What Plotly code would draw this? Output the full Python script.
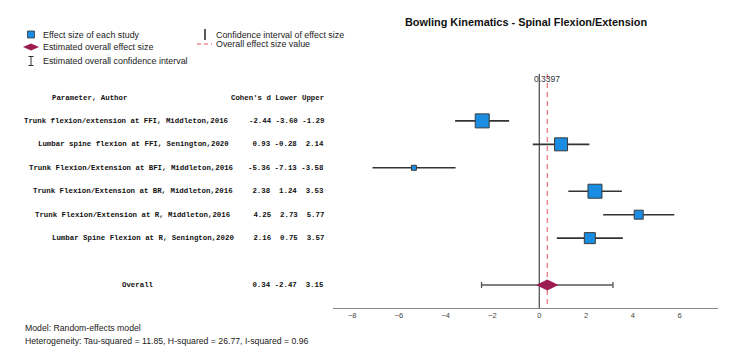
import plotly.graph_objects as go

# ---- data ----
studies = [
    "Trunk flexion/extension at FFI, Middleton,2016",
    "Lumbar spine flexion at FFI, Senington,2020",
    "Trunk Flexion/Extension at BFI, Middleton,2016",
    "Trunk Flexion/Extension at BR, Middleton,2016",
    "Trunk Flexion/Extension at R, Middleton,2016",
    "Lumbar Spine Flexion at R, Senington,2020",
]
cohens_d = [-2.44, 0.93, -5.36, 2.38, 4.25, 2.16]
lower = [-3.60, -0.28, -7.13, 1.24, 2.73, 0.75]
upper = [-1.29, 2.14, -3.58, 3.53, 5.77, 3.57]
weights = [14, 13, 5, 14, 9, 11]  # marker size (study weight)
overall_d, overall_lo, overall_hi = 0.34, -2.47, 3.15
overall_value = 0.3397
tick_vals = [-8, -6, -4, -2, 0, 2, 4, 6]

W, H = 750, 353
def px(x): return x / W
def py(y): return 1 - y / H

rows = list(range(1, len(studies) + 1))
overall_row = 8
label_centers_px = [126.7, 133.8, 131.3, 132.5, 132.8, 142.5]

MONO = "Liberation Mono"
SANS = "Liberation Sans"
BLUE = "#1a8de2"
MAROON = "#9c1c52"
NB = "\u00a0"

fig = go.Figure()

def ann(**kw):
    kw.setdefault("showarrow", False)
    kw.setdefault("yanchor", "middle")
    kw.setdefault("xanchor", "center")
    fig.add_annotation(**kw)

def numrow(vals):
    return NB.join(f"{v:5.2f}".replace(" ", NB) for v in vals)

# study effects with CI
fig.add_trace(go.Scatter(
    x=cohens_d, y=rows, mode="markers",
    marker=dict(symbol="square", size=weights, color=BLUE, opacity=1,
                line=dict(color="#3a3a3a", width=1)),
    error_x=dict(type="data", symmetric=False,
                 array=[u - d for u, d in zip(upper, cohens_d)],
                 arrayminus=[d - l for l, d in zip(lower, cohens_d)],
                 color="#333", thickness=1.6, width=0),
    showlegend=False, hoverinfo="skip"))

# overall
fig.add_trace(go.Scatter(
    x=[overall_d], y=[overall_row], mode="markers",
    marker=dict(symbol="diamond-wide", size=16, color=MAROON, opacity=1, line=dict(width=0)),
    error_x=dict(type="data", symmetric=False,
                 array=[overall_hi - overall_d], arrayminus=[overall_d - overall_lo],
                 color="#555", thickness=1.3, width=3),
    showlegend=False, hoverinfo="skip"))

y_top, y_bot = -1.0, 8.98
# zero line and overall value line
fig.add_shape(type="line", x0=0, x1=0, y0=y_top, y1=y_bot, xref="x", yref="y",
              line=dict(color="#555", width=1.3), layer="below")
fig.add_shape(type="line", x0=overall_value, x1=overall_value, y0=y_top, y1=y_bot,
              xref="x", yref="y", line=dict(color="#e8505f", width=1, dash="5px,4px"),
              layer="below")
ann(x=overall_value, y=-0.79, xref="x", yref="y", text=f"{overall_value:g}",
    font=dict(family=SANS, size=8.5, color="#333"))

# table text
tfont = dict(family=MONO, size=7.4, color="#111")
num_right = px(326)
ann(x=px(89.2), y=0.03, xref="paper", yref="y", text="<b>Parameter, Author</b>", font=tfont)
ann(x=num_right, y=0.03, xref="paper", yref="y",
    text="<b>" + NB.join(["Cohen's" + NB + "d", "Lower", "Upper"]) + "</b>",
    font=tfont, xanchor="right")

for r, s, d, l, u, cx in zip(rows, studies, cohens_d, lower, upper, label_centers_px):
    ann(x=px(cx), y=r, xref="paper", yref="y", text=f"<b>{s}</b>", font=tfont)
    ann(x=num_right, y=r, xref="paper", yref="y", text=f"<b>{numrow([d, l, u])}</b>",
        font=tfont, xanchor="right")
ann(x=px(138), y=overall_row, xref="paper", yref="y", text="<b>Overall</b>", font=tfont)
ann(x=num_right, y=overall_row, xref="paper", yref="y",
    text=f"<b>{numrow([overall_d, overall_lo, overall_hi])}</b>", font=tfont, xanchor="right")

# title
ann(x=px(526), y=py(22), xref="paper", yref="paper",
    text="<b>Bowling Kinematics - Spinal Flexion/Extension</b>",
    font=dict(family=SANS, size=10.9, color="#111"))

# footer
foot = dict(family=SANS, size=8.7, color="#222")
ann(x=px(23), y=py(328), xref="paper", yref="paper", xanchor="left",
    text="Model: Random-effects model", font=foot)
ann(x=px(23), y=py(341), xref="paper", yref="paper", xanchor="left",
    text="Heterogeneity: Tau-squared = 11.85, H-squared = 26.77, I-squared = 0.96", font=foot)

# legend (manual)
leg = dict(family=SANS, size=8.9, color="#222")
fig.add_shape(type="rect", xref="paper", yref="paper", x0=px(27.5), x1=px(34.5),
              y0=py(38), y1=py(31), fillcolor=BLUE, line=dict(color="#333", width=0.8))
ann(x=px(41), y=py(34.5), xref="paper", yref="paper", xanchor="left",
    text="Effect size of each study", font=leg)
fig.add_shape(type="path", xref="paper", yref="paper",
              path=f"M {px(23)},{py(47)} L {px(31)},{py(43.5)} L {px(39)},{py(47)} L {px(31)},{py(50.5)} Z",
              fillcolor=MAROON, line=dict(width=0))
ann(x=px(41), y=py(47), xref="paper", yref="paper", xanchor="left",
    text="Estimated overall effect size", font=leg)
for seg in [(px(31), py(56.5), px(31), py(65.5)), (px(28.5), py(56.5), px(33.5), py(56.5)),
            (px(28.5), py(65.5), px(33.5), py(65.5))]:
    fig.add_shape(type="line", xref="paper", yref="paper", x0=seg[0], y0=seg[1], x1=seg[2], y1=seg[3],
                  line=dict(color="#333", width=1))
ann(x=px(41), y=py(61), xref="paper", yref="paper", xanchor="left",
    text="Estimated overall confidence interval", font=leg)
fig.add_shape(type="line", xref="paper", yref="paper", x0=px(205), x1=px(205), y0=py(29), y1=py(40),
              line=dict(color="#222", width=1.5))
ann(x=px(214), y=py(35), xref="paper", yref="paper", xanchor="left",
    text="Confidence interval of effect size", font=leg)
fig.add_shape(type="line", xref="paper", yref="paper", x0=px(197), x1=px(212), y0=py(44), y1=py(44),
              line=dict(color="#e8505f", width=1, dash="4px,3px"))
ann(x=px(214), y=py(44), xref="paper", yref="paper", xanchor="left",
    text="Overall effect size value", font=leg)

fig.update_layout(
    width=W, height=H, margin=dict(l=0, r=0, t=0, b=0),
    paper_bgcolor="white", plot_bgcolor="white",
    xaxis=dict(domain=[px(333), px(718)], range=[-8.82, 7.64], tickvals=tick_vals,
               showgrid=False, zeroline=False, showline=True, linecolor="#888", linewidth=1.2,
               ticks="", tickfont=dict(family=SANS, size=7.5, color="#444")),
    yaxis=dict(domain=[py(308), py(74)], range=[y_bot, y_top], visible=False,
               showgrid=False, zeroline=False),
    showlegend=False,
)
fig.write_html("out.html")
